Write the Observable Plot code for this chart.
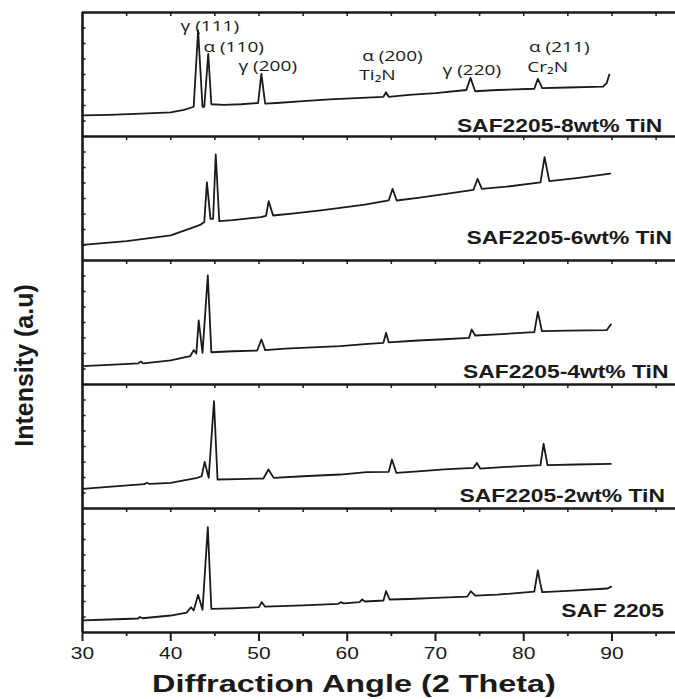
<!DOCTYPE html>
<html><head><meta charset="utf-8">
<script src="https://cdn.jsdelivr.net/npm/d3@7"></script>
<script src="https://cdn.jsdelivr.net/npm/@observablehq/plot@0.6"></script>
<style>body{margin:0;background:#fff}</style>
</head><body><div id="chart"></div>
<script>
// Samples, bottom to top
const samples = ["SAF 2205", "SAF2205-2wt% TiN", "SAF2205-4wt% TiN", "SAF2205-6wt% TiN", "SAF2205-8wt% TiN"];

// [2θ, intensity within its panel (0-100)]
const saf2205 = [[30,9.7],[33,10.5],[36.3,11.3],[36.5,12.5],[36.8,11.5],[40,13.7],[41.8,16],[42.3,20.4],[42.6,17.7],[43.1,30.4],[43.6,18.3],[44.2,85],[44.6,19.1],[47,19.5],[50,20.4],[50.3,24.5],[50.7,20.8],[55,21.8],[59,23.1],[59.3,24.5],[59.6,23.5],[61.4,24.5],[61.7,26.6],[62,25],[64.1,25.8],[64.4,33.3],[64.8,26.6],[67,27],[70,28],[73.6,29],[74.0,33.3],[74.5,29.8],[77,30.5],[81.2,33],[81.6,50],[81.85,40.6],[82.1,32.5],[85,33.6],[89.5,35.5],[89.9,37]];
const tin2 = [[30,15.9],[34,18],[37,19.6],[37.3,20.8],[37.6,19.8],[40,20.7],[43,24.7],[43.5,26],[43.85,37.6],[44.3,24.7],[44.9,86.5],[45.3,23.4],[47.5,23.7],[50.5,24.2],[51.07,31.5],[51.67,24.7],[55,26],[59.2,27.4],[62.2,29.3],[64.7,29.6],[65.07,39.5],[65.56,28.8],[68,30],[71,31.5],[74.3,32.8],[74.7,36.8],[75.07,32.2],[78,33.5],[81.9,34.9],[82.25,52.2],[82.7,34.9],[86,35.5],[89.87,36]];
const tin4 = [[30,14.8],[33,15.8],[36.3,17],[36.6,18.5],[36.9,17],[40,19.4],[42.2,22.8],[42.6,27.7],[42.9,25],[43.17,51.6],[43.6,25.5],[44.2,88],[44.6,26],[47,26.8],[49.8,27.4],[50.27,36.3],[50.7,27.7],[53,29],[56,30],[59.2,30.9],[62,32.5],[64.1,33.6],[64.4,41.7],[64.7,34],[68,35.5],[71,36.5],[73.8,37.6],[74.1,44.4],[74.5,39.5],[77,40.5],[81.2,42.2],[81.6,58.6],[82.06,43],[85,43.5],[89.4,43.8],[89.87,48.4]];
const tin6 = [[30,12.6],[35,15.6],[40,20.2],[42.4,26.3],[43.4,29],[43.8,31],[44.1,63],[44.5,33.6],[44.8,33.6],[45.1,85.5],[45.5,31.7],[47,32.5],[50.2,35],[50.8,36],[51.1,47.8],[51.6,36.3],[54,38],[57,40.5],[59.2,42.5],[62,45],[64.7,48.4],[65.14,57.8],[65.6,48.4],[68,50.5],[71,53.5],[74.3,57],[74.77,65.9],[75.26,57.8],[78,59.5],[81.9,63],[82.36,83.3],[82.9,64],[86,66.5],[89.8,70]];
const tin8 = [[30,17],[33,17.5],[36,18.3],[40,19.5],[41.5,21.5],[42.6,24],[43.1,85.5],[43.6,24],[43.8,24],[44.25,66.7],[44.6,26],[46,25.5],[48,26],[49.9,27],[50.27,50.5],[50.7,26.5],[52,27],[55,28.5],[58,30],[61,31],[64.1,32],[64.4,35.7],[64.7,32],[67,33.5],[70,35],[73.5,37.5],[73.97,47.3],[74.5,36.5],[77,37.5],[81.2,38.5],[81.6,46.5],[82.1,39],[85,39.5],[89,40.3],[89.4,43],[89.7,50]];
const spectra = [saf2205, tin2, tin4, tin6, tin8];

// Tick values
const xTicks = [30, 40, 50, 60, 70, 80, 90];
const xMinor = [35, 40, 45, 50, 55, 60, 65, 70, 75, 80, 85, 90, 95];
const xMinorBottom = [35, 45, 55, 65, 75, 85, 95];
const yMinorSteps = [1, 2, 3, 4, 5, 6, 7];

// Peak annotations (top panel): text, 2θ of left edge, level in panel
const peakText = ["γ (111)", "α (110)", "γ (200)", "α (200)", "Ti₂N", "γ (220)", "α (211)", "Cr₂N"];
const peakX = [41.1, 43.7, 47.67, 61.7, 61.37, 70.8, 80.6, 80.4];
const peakLevel = [84.7, 68, 53.2, 60.7, 45.2, 50, 68, 52.4];

// Sample labels: 2θ of right edge, level in panel
const sampleLabelX = [95.9, 96.0, 96.4, 96.8, 95.7];
const sampleLabelLevel = [12.5, 5.6, 5.6, 13.7, 4.0];

const xLabel = "Diffraction Angle (2 Theta)";
const yLabel = "Intensity (a.u)";

const rows = spectra.flatMap((s, i) => s.map(([t, v]) => ({sample: samples[i], theta: t, y: i + v / 100})));
const boundaries = d3.range(samples.length + 1);
const boundaryTicks = boundaries.slice(1).flatMap(b => xMinor.map(x => ({x, b})));
const bottomMinor = xMinorBottom.map(x => ({x, b: 0}));
const leftTicks = d3.range(samples.length).flatMap(i => yMinorSteps.map(k => i + k / 8));
const peakRows = peakText.map((t, i) => ({t, x: peakX[i], y: 4 + peakLevel[i] / 100}));
const labelRows = samples.map((s, i) => ({t: s, x: sampleLabelX[i], y: i + sampleLabelLevel[i] / 100}));

const ink = "#1a1a1a";
const chart = Plot.plot({
  width: 675,
  height: 699,
  marginTop: 12,
  marginBottom: 67,
  marginLeft: 82,
  marginRight: 0,
  style: {fontFamily: "Liberation Sans", fontSize: "16px", background: "white", color: ink},
  x: {domain: [30, 97.2], label: null},
  y: {domain: [0, 5], axis: null},
  marks: [
    Plot.line(rows, {x: "theta", y: "y", z: "sample", stroke: ink, strokeWidth: 1.8, strokeLinejoin: "round"}),
    Plot.ruleY(boundaries, {stroke: ink, strokeWidth: 2.6}),
    Plot.ruleX([30], {stroke: ink, strokeWidth: 2.6}),
    Plot.link(boundaryTicks, {x1: "x", x2: "x", y1: "b", y2: d => d.b - 0.028, stroke: ink, strokeWidth: 1.5}),
    Plot.link(bottomMinor, {x1: "x", x2: "x", y1: "b", y2: d => d.b - 0.028, stroke: ink, strokeWidth: 1.8}),
    Plot.link(leftTicks, {x1: 30, x2: 30.35, y1: d => d, y2: d => d, stroke: ink, strokeWidth: 1.5}),
    Plot.axisX(xTicks, {tickSize: 9, tickPadding: 6, strokeWidth: 2, fontSize: 16.5, fill: ink}),
    Plot.text(peakRows, {x: "x", y: "y", text: "t", textAnchor: "start", lineAnchor: "bottom", fontFamily: "Open Sans", fontSize: 15, fill: ink}),
    Plot.text(labelRows, {x: "x", y: "y", text: "t", textAnchor: "end", lineAnchor: "bottom", fontWeight: "bold", fontSize: 18, fill: ink}),
    Plot.text([xLabel], {frameAnchor: "bottom", textAnchor: "middle", dx: -25, dy: 59, lineAnchor: "bottom", fontWeight: "bold", fontSize: 24, fill: ink}),
    Plot.text([yLabel], {frameAnchor: "left", textAnchor: "middle", dx: -58, dy: 43, rotate: -90, fontWeight: "bold", fontSize: 25, fill: ink})
  ]
});
document.getElementById("chart").append(chart);
// Horizontally widened lettering, as in the reference figure
chart.querySelectorAll("text").forEach(t => {
  const s = t.textContent;
  if (s === yLabel) return;
  const f = s === xLabel ? 1.35 : 1.27;
  const L = t.getComputedTextLength();
  t.setAttribute("textLength", (L * f).toFixed(1));
  t.setAttribute("lengthAdjust", "spacingAndGlyphs");
});
</script>
</body></html>
